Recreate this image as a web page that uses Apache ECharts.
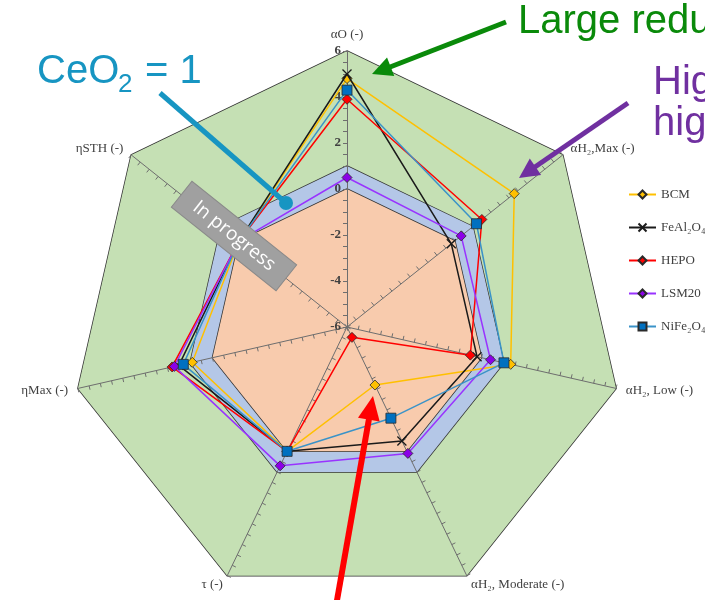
<!DOCTYPE html>
<html>
<head>
<meta charset="utf-8">
<script src="https://cdn.jsdelivr.net/npm/echarts@6/dist/echarts.min.js"></script>
<style>
  html, body { margin: 0; padding: 0; background: #ffffff; }
  #chart { width: 705px; height: 600px; }
</style>
</head>
<body>
<div id="chart"></div>
<script>
// Performance axes, listed clockwise from the top
const axisNames = ['αO (-)', 'αH₂,Max (-)', 'αH₂, Low (-)', 'αH₂, Moderate (-)', 'τ (-)', 'ηMax (-)', 'ηSTH (-)'];
const axisMin = -6;
const axisMax = 6;
const axisStep = 0.5;
const labelledTicks = [-6, -4, -2, 0, 2, 4, 6];

// Reference levels: baseline and ceria (CeO2 = 1)
const baselineLevel = 0;
const ceriaLevel = 1;

// Materials and their scores (same order as axisNames)
const materialNames = ['BCM', 'FeAl₂O₄', 'HEPO', 'LSM20', 'NiFe₂O₄'];
const bcmValues     = [4.8, 3.3, 1.3, -3.2, 0, 0.9, 0];
const feal2o4Values = [5.0, -0.2, -0.2, -0.5, 0, 1.5, 0];
const hepoValues    = [3.9, 1.5, -0.5, -5.5, 0, 1.8, 0];
const lsm20Values   = [0.5, 0.35, 0.4, 0.1, 0.7, 1.7, 0];
const nife2o4Values = [4.3, 1.2, 1.0, -1.6, 0, 1.3, 0];

const materialValues = [bcmValues, feal2o4Values, hepoValues, lsm20Values, nife2o4Values];
const materialStyles = [
  { line: '#FFC000', fill: '#FFC000', symbol: 'diamond', size: 10 },
  { line: '#1a1a1a', fill: '#1a1a1a', symbol: 'path://M0,0 L10,10 M10,0 L0,10', size: 9 },
  { line: '#FF0000', fill: '#FF0000', symbol: 'diamond', size: 10 },
  { line: '#9933FF', fill: '#8B00E8', symbol: 'diamond', size: 10 },
  { line: '#3A93C8', fill: '#0070C0', symbol: 'rect', size: 10 }
];

// ECharts lays radar indicators out counter-clockwise; reorder to run clockwise.
const clockwiseOrder = axisNames.map((_, i) => (i === 0 ? 0 : axisNames.length - i));
const reorder = arr => clockwiseOrder.map(i => arr[i]);

const indicators = reorder(axisNames).map((name, i) => ({
  name, min: axisMin, max: axisMax,
  axisLabel: i === 0
    ? { show: true, formatter: v => (labelledTicks.indexOf(Math.round(v * 100) / 100) >= 0 ? String(v) : '') }
    : { show: false }
}));

const stepCount = Math.round((axisMax - axisMin) / axisStep);
const centerPos = [347, 327];
const radarRadius = 276;
const serifFont = 'Liberation Serif';

// Filled background zones, painted outermost first, below the spokes
const zoneLevels = [axisMax, ceriaLevel, baselineLevel];
const zoneColors = ['#C5E0B4', '#B4C7E7', '#F8CBAD'];
const zoneSeries = zoneLevels.map((level, i) => ({
  type: 'radar',
  name: 'zone' + i,
  z: -1,
  silent: true,
  symbol: 'none',
  lineStyle: { color: '#333333', width: 1.5 },
  areaStyle: { color: zoneColors[i], opacity: 1 },
  data: [{ value: axisNames.map(() => level) }]
}));

const radarSeries = materialNames.map((name, i) => ({
  type: 'radar',
  name,
  z: 3 + i,
  symbol: materialStyles[i].symbol,
  symbolSize: materialStyles[i].size,
  lineStyle: { color: materialStyles[i].line, width: 1.5 },
  itemStyle: {
    color: materialStyles[i].fill,
    borderColor: i === 1 ? '#1a1a1a' : '#2a2a2a',
    borderWidth: i === 1 ? 1.3 : 0.8
  },
  data: [{ value: reorder(materialValues[i]), name }]
}));

// Line-style series used only to give the legend line-and-marker icons
const legendSeries = materialNames.map((name, i) => ({
  type: 'line',
  name,
  data: [],
  symbol: materialStyles[i].symbol,
  lineStyle: { color: materialStyles[i].line, width: 1.5 },
  itemStyle: {
    color: materialStyles[i].fill,
    borderColor: i === 1 ? '#1a1a1a' : '#2a2a2a',
    borderWidth: i === 1 ? 1.3 : 0.8
  }
}));

function arrowShapes(from, to, color, width, headLen, headHalf) {
  const dx = to[0] - from[0], dy = to[1] - from[1];
  const len = Math.hypot(dx, dy);
  const ux = dx / len, uy = dy / len;
  const bx = to[0] - ux * headLen, by = to[1] - uy * headLen;
  return [
    { type: 'line', z: 100, shape: { x1: from[0], y1: from[1], x2: bx + ux * 2, y2: by + uy * 2 },
      style: { stroke: color, lineWidth: width } },
    { type: 'polygon', z: 100,
      shape: { points: [to, [bx - uy * headHalf, by + ux * headHalf], [bx + uy * headHalf, by - ux * headHalf]] },
      style: { fill: color } }
  ];
}

const sansFont = 'Liberation Sans';
const ceriaColor = '#1795C2';

const graphics = [].concat(
  arrowShapes([506, 22], [372, 74], '#0A8A0A', 5, 20, 10),
  arrowShapes([628, 103], [519, 178], '#7030A0', 5, 20, 10),
  arrowShapes([336, 606], [373, 396], '#FF0000', 6, 24, 11),
  [
    { type: 'text', z: 100, x: 518, y: 22,
      style: { text: 'Large reduction', fill: '#0A8A0A', font: '40px ' + sansFont, verticalAlign: 'middle' } },
    { type: 'text', z: 100, x: 653, y: 83,
      style: { text: 'Higher', fill: '#7030A0', font: '40px ' + sansFont, verticalAlign: 'middle' } },
    { type: 'text', z: 100, x: 653, y: 124,
      style: { text: 'higher', fill: '#7030A0', font: '40px ' + sansFont, verticalAlign: 'middle' } },
    { type: 'text', z: 100, x: 37, y: 72,
      style: { text: 'CeO', fill: ceriaColor, font: '40px ' + sansFont, verticalAlign: 'middle' } },
    { type: 'text', z: 100, x: 118, y: 85,
      style: { text: '2', fill: ceriaColor, font: '26px ' + sansFont, verticalAlign: 'middle' } },
    { type: 'text', z: 100, x: 134, y: 72,
      style: { text: ' = 1', fill: ceriaColor, font: '40px ' + sansFont, verticalAlign: 'middle' } },
    { type: 'line', z: 100, shape: { x1: 160, y1: 93, x2: 286, y2: 203 },
      style: { stroke: ceriaColor, lineWidth: 5 } },
    { type: 'circle', z: 100, shape: { cx: 286, cy: 203, r: 7 }, style: { fill: ceriaColor } },
    { type: 'group', z: 100, x: 234, y: 236, rotation: -0.674,
      children: [
        { type: 'rect', z: 100, shape: { x: -67, y: -16.5, width: 134, height: 33 },
          style: { fill: '#A0A0A0', stroke: '#8A8A8A', lineWidth: 1 } },
        { type: 'text', z: 101, x: 0, y: 0,
          style: { text: 'In progress', fill: '#ffffff', font: '19px "Open Sans"', align: 'center', verticalAlign: 'middle' } }
      ] }
  ]
);

const chart = echarts.init(document.getElementById('chart'), null, { renderer: 'canvas' });
chart.setOption({
  animation: false,
  backgroundColor: '#ffffff',
  grid: { show: false, left: -50, top: -50, width: 10, height: 10 },
  xAxis: { show: false, type: 'value' },
  yAxis: { show: false, type: 'value' },
  legend: {
    orient: 'vertical',
    left: 623,
    top: 183,
    itemWidth: 27,
    itemHeight: 10,
    itemGap: 20,
    textStyle: { fontFamily: serifFont, fontSize: 13, color: '#404040' },
    data: materialNames
  },
  radar: {
    // spokes, ticks, value labels and axis names
    z: 1,
    center: centerPos,
    radius: radarRadius,
    startAngle: 90,
    shape: 'polygon',
    splitNumber: stepCount,
    indicator: indicators,
    nameGap: 10,
    axisName: { show: true, color: '#404040', fontFamily: serifFont, fontSize: 13 },
    axisLine: { show: true, lineStyle: { color: '#6e6e6e', width: 1 } },
    axisTick: { show: true, inside: true, length: 4, lineStyle: { color: '#6e6e6e', width: 1 } },
    axisLabel: { show: false, color: '#404040', fontFamily: serifFont, fontSize: 13, fontWeight: 'bold', margin: 6 },
    splitLine: { show: false },
    splitArea: { show: false }
  },
  series: zoneSeries.concat(legendSeries, radarSeries),
  graphic: graphics
});
</script>
</body>
</html>
